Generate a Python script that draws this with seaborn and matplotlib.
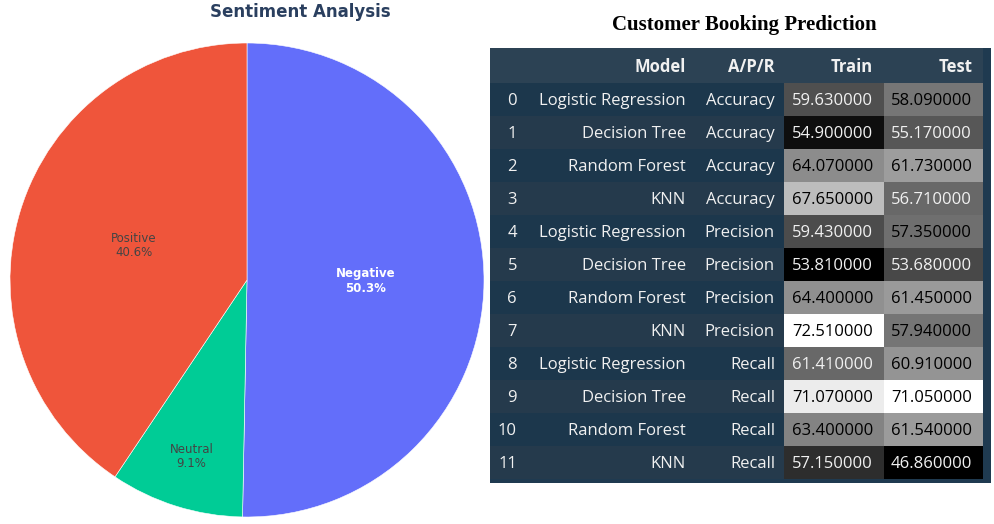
import numpy as np
import pandas as pd
import seaborn as sns
import matplotlib.pyplot as plt
from matplotlib.patches import Rectangle

# --- data ---
SENTIMENTS = ["Negative", "Neutral", "Positive"]
SENT_PCT   = [50.3, 9.1, 40.6]
SENT_COLORS = ["#636EFA", "#00CC96", "#EF553B"]

MODELS = ["Logistic Regression", "Decision Tree", "Random Forest", "KNN"] * 3
METRICS = ["Accuracy"] * 4 + ["Precision"] * 4 + ["Recall"] * 4
TRAIN = [59.63, 54.90, 64.07, 67.65, 59.43, 53.81, 64.40, 72.51, 61.41, 71.07, 63.40, 57.15]
TEST  = [58.09, 55.17, 61.73, 56.71, 57.35, 53.68, 61.45, 57.94, 60.91, 71.05, 61.54, 46.86]

df = pd.DataFrame({"Model": MODELS, "A/P/R": METRICS, "Train": TRAIN, "Test": TEST})

sns.set_theme(style="white")
plt.rcParams["font.family"] = ["DejaVu Sans"]

W, H = 994, 524
fig = plt.figure(figsize=(W / 100, H / 100), dpi=100)

def px_rect(x0, y0, x1, y1):
    return [x0 / W, 1 - y1 / H, (x1 - x0) / W, (y1 - y0) / H]

# --- pie ---
pax = fig.add_axes(px_rect(10, 43, 484, 517))
wedges, _ = pax.pie(SENT_PCT, colors=SENT_COLORS, startangle=90, counterclock=False,
                    wedgeprops=dict(edgecolor="white", linewidth=0.4))
pax.set_xlim(-1, 1); pax.set_ylim(-1, 1)
pax.set_aspect("equal")
label_r = {"Negative": 0.5, "Neutral": 0.78, "Positive": 0.5}
text_c  = {"Negative": "white", "Neutral": "#444444", "Positive": "#444444"}
for w, name, pct in zip(wedges, SENTIMENTS, SENT_PCT):
    ang = np.deg2rad((w.theta1 + w.theta2) / 2)
    r = label_r[name]
    pax.text(r * np.cos(ang), r * np.sin(ang), f"{name}\n{pct:.1f}%", ha="center", va="center",
             fontsize=8.5, color=text_c[name], linespacing=1.15,
             fontweight="bold" if name == "Negative" else "normal")
fig.text(300 / W, 1 - 12 / H, "Sentiment Analysis", ha="center", va="center",
         fontsize=12, fontweight="bold", color="#2a3f5f")

# --- table ---
fig.text(744 / W, 1 - 25 / H, "Customer Booking Prediction", ha="center", va="center",
         fontsize=15, fontweight="bold", family="Liberation Serif", color="black")

tax = fig.add_axes(px_rect(490, 48, 991, 483))
tax.set_xlim(490, 991); tax.set_ylim(483, 48)
tax.axis("off")
top, hdr_h, row_h = 48, 35, 33
dy = 1.5  # nudge text down to sit centred like the reference
tax.add_patch(Rectangle((490, 48), 501, 435, color="#1f3a50", lw=0))
tax.add_patch(Rectangle((490, top), 493, hdr_h, color="#2c4254", lw=0))
tfont = dict(family=["Open Sans", "DejaVu Sans"], fontsize=12, color="#f1f1f1")
for x, lab in [(686, "Model"), (775, "A/P/R"), (873, "Train"), (973, "Test")]:
    tax.text(x, top + hdr_h / 2 + dy, lab, ha="right", va="center", fontweight="bold", **tfont)
y0 = top + hdr_h
for i, row in df.iterrows():
    yc = y0 + i * row_h
    tax.add_patch(Rectangle((490, yc), 493, row_h,
                            color="#1c374c" if i % 2 == 0 else "#253a4c", lw=0))
    tax.text(517, yc + row_h / 2 + dy, str(i), ha="right", va="center", **tfont)
    tax.text(686, yc + row_h / 2 + dy, row["Model"], ha="right", va="center", **tfont)
    tax.text(775, yc + row_h / 2 + dy, row["A/P/R"], ha="right", va="center", **tfont)

# gradient columns drawn with seaborn heatmaps, one scale per column
nrows = len(df)
for col, (x0, x1) in [("Train", (784, 884)), ("Test", (884, 983))]:
    hax = fig.add_axes(px_rect(x0, y0, x1, y0 + nrows * row_h))
    vals = df[[col]]
    vmin, vmax = vals[col].min(), vals[col].max()
    sns.heatmap(vals, cmap="gray", vmin=vmin, vmax=vmax, cbar=False, ax=hax,
                xticklabels=False, yticklabels=False)
    for i, v in enumerate(vals[col]):
        frac = (v - vmin) / (vmax - vmin)
        hax.text(0.89, i + 0.5 + dy / row_h, f"{v:.6f}", ha="right", va="center",
                 family=["Open Sans", "DejaVu Sans"], fontsize=12,
                 color="#000000" if frac > 0.42 else "#f1f1f1")

fig.savefig("out.png", dpi=100)
